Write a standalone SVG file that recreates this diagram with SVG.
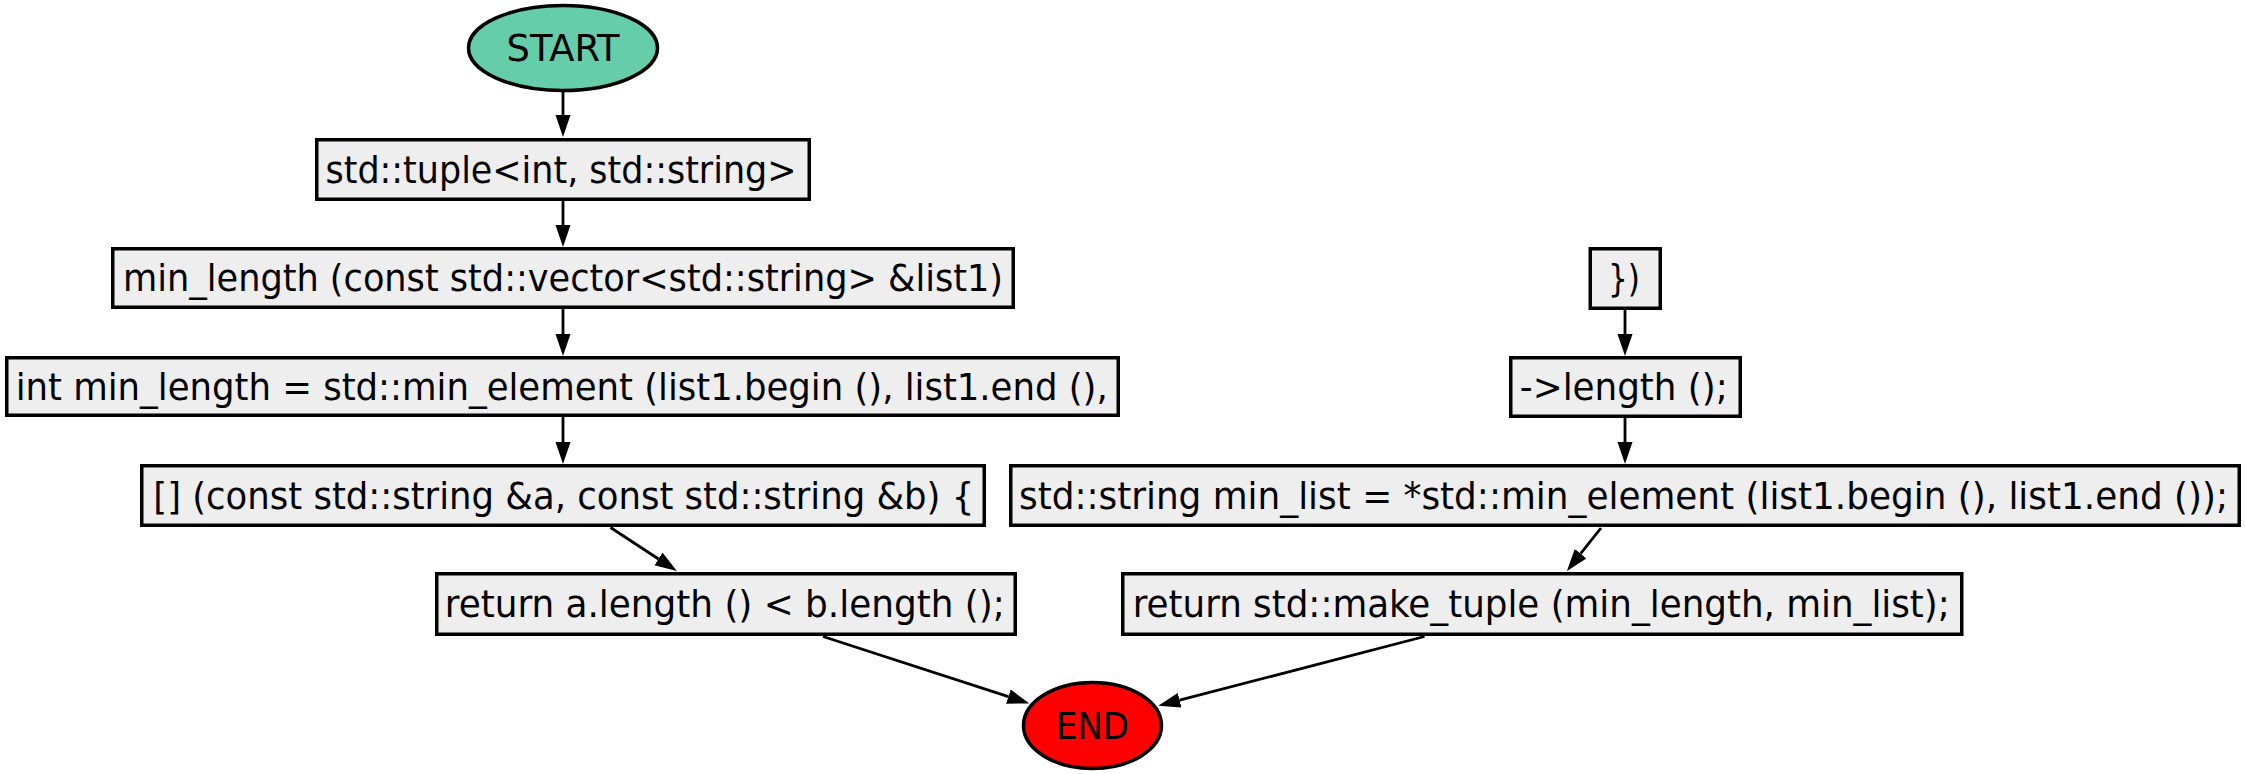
<svg xmlns="http://www.w3.org/2000/svg" width="2245" height="774" viewBox="0 0 2245 774">
<style>
  .box { fill: #eeeeee; stroke: #000000; stroke-width: 3.5; }
  .lbl { font-family: "DejaVu Sans Condensed", "DejaVu Sans", "Liberation Sans", sans-serif; font-stretch: condensed; font-size: 38px; fill: #000000; text-anchor: middle; }
  .edge { fill: none; stroke: #000000; stroke-width: 2.8; marker-end: url(#arrow); }
</style>
<defs>
  <marker id="arrow" markerUnits="userSpaceOnUse" markerWidth="23" markerHeight="16" refX="0" refY="7.5" orient="auto">
    <path d="M0,0 L22,7.5 L0,15 z" fill="#000000"/>
  </marker>
</defs>
<rect width="2245" height="774" fill="#ffffff"/>
<g id="connectors">
  <path class="edge" d="M563,92 L563,115"/>
  <path class="edge" d="M563,201 L563,225"/>
  <path class="edge" d="M563,309 L563,334"/>
  <path class="edge" d="M563,417 L563,442"/>
  <path class="edge" d="M610.5,527.5 L658.5,559"/>
  <path class="edge" d="M823,636.5 L1008.4,696.6"/>
  <path class="edge" d="M1625,310 L1625,334"/>
  <path class="edge" d="M1625,418 L1625,442"/>
  <path class="edge" d="M1601,528 L1580.6,553.7"/>
  <path class="edge" d="M1424.5,636.5 L1179.6,700.2"/>
</g>
<g id="start">
  <ellipse cx="563" cy="48" rx="94.5" ry="42.5" fill="#66cdaa" stroke="#000000" stroke-width="3.5"/>
  <text class="lbl" x="563" y="61" textLength="113" lengthAdjust="spacingAndGlyphs">START</text>
</g>
<g id="n1">
  <rect class="box" x="316.75" y="139.75" width="492.5" height="59.5"/>
  <text class="lbl" x="561" y="182.5" textLength="471" lengthAdjust="spacingAndGlyphs">std::tuple&lt;int, std::string&gt;</text>
</g>
<g id="n2">
  <rect class="box" x="112.75" y="248.75" width="900.5" height="58.5"/>
  <text class="lbl" x="563" y="291" textLength="880" lengthAdjust="spacingAndGlyphs">min_length (const std::vector&lt;std::string&gt; &amp;list1)</text>
</g>
<g id="n3">
  <rect class="box" x="6.75" y="357.75" width="1111.5" height="57.5"/>
  <text class="lbl" x="561.7" y="399.5" textLength="1092" lengthAdjust="spacingAndGlyphs">int min_length = std::min_element (list1.begin (), list1.end (),</text>
</g>
<g id="n4">
  <rect class="box" x="141.75" y="465.75" width="842.5" height="59.5"/>
  <text class="lbl" x="563.8" y="508.5" textLength="821" lengthAdjust="spacingAndGlyphs">[] (const std::string &amp;a, const std::string &amp;b) {</text>
</g>
<g id="n5">
  <rect class="box" x="436.75" y="573.75" width="578.5" height="60.5"/>
  <text class="lbl" x="724.8" y="616.5" textLength="560" lengthAdjust="spacingAndGlyphs">return a.length () &lt; b.length ();</text>
</g>
<g id="n6">
  <rect class="box" x="1590.25" y="248.75" width="70" height="59.5"/>
  <text class="lbl" x="1624" y="291" textLength="32" lengthAdjust="spacingAndGlyphs">})</text>
</g>
<g id="n7">
  <rect class="box" x="1510.75" y="357.75" width="229.5" height="58.5"/>
  <text class="lbl" x="1623.8" y="399.5" textLength="208" lengthAdjust="spacingAndGlyphs">-&gt;length ();</text>
</g>
<g id="n8">
  <rect class="box" x="1010.75" y="465.75" width="1228.5" height="59.5"/>
  <text class="lbl" x="1623.5" y="508.5" textLength="1209" lengthAdjust="spacingAndGlyphs">std::string min_list = *std::min_element (list1.begin (), list1.end ());</text>
</g>
<g id="n9">
  <rect class="box" x="1122.75" y="573.75" width="839" height="60.5"/>
  <text class="lbl" x="1541.3" y="616.5" textLength="817" lengthAdjust="spacingAndGlyphs">return std::make_tuple (min_length, min_list);</text>
</g>
<g id="end">
  <ellipse cx="1092.5" cy="725.5" rx="69" ry="43" fill="#ff0000" stroke="#000000" stroke-width="3.5"/>
  <text class="lbl" x="1092.5" y="738.5" textLength="73" lengthAdjust="spacingAndGlyphs">END</text>
</g>
</svg>
